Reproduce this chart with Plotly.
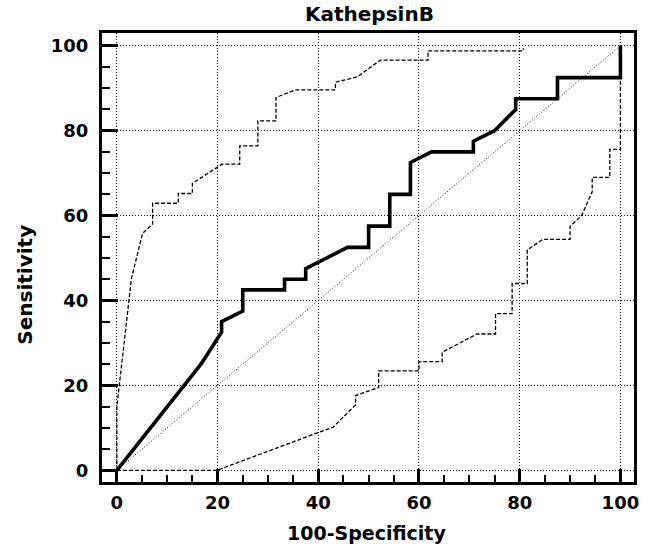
import plotly.graph_objects as go

# ROC curve for KathepsinB (values in percent)
roc_fpr = [0, 16.7, 20.8, 20.8, 25, 25, 33.3, 33.3, 37.5, 37.5, 45.8, 50, 50, 54.2,
           54.2, 58.3, 58.3, 62.5, 70.8, 70.8, 75, 79.2, 79.2, 87.5, 87.5, 100, 100]
roc_tpr = [0, 25, 32.5, 35, 37.5, 42.5, 42.5, 45, 45, 47.5, 52.5, 52.5, 57.5, 57.5,
           65, 65, 72.5, 75, 75, 77.5, 80, 85, 87.5, 87.5, 92.5, 92.5, 100]

# Upper confidence bound
upper_fpr = [0, 0, 2.9, 5.1, 7.1, 7.1, 12.2, 12.2, 15.0, 15.0, 20.9, 24.4, 24.4, 28.0,
             28.0, 31.6, 31.6, 35.4, 43.4, 43.4, 47.8, 52.3, 61.8, 61.8, 80.7, 80.7]
upper_tpr = [0, 15.0, 45.2, 55.8, 58.0, 62.9, 62.9, 65.2, 65.2, 67.6, 72.1, 72.1, 76.4,
             76.4, 82.3, 82.3, 87.8, 89.6, 89.6, 91.4, 92.7, 96.6, 96.6, 98.8, 98.8, 99.4]

# Lower confidence bound
lower_fpr = [0, 19.9, 40.0, 42.9, 47.4, 47.4, 52.0, 52.0, 60.0, 60.0, 64.6, 64.6, 71.5,
             75.2, 75.2, 78.5, 78.5, 81.5, 81.5, 84.6, 90.0, 90.0, 92.3, 94.4, 94.4,
             97.9, 97.9, 100, 100]
lower_tpr = [0, 0, 8.9, 10.1, 15.4, 17.6, 19.5, 23.4, 23.4, 25.6, 25.6, 27.8, 32.1,
             32.1, 36.9, 36.9, 44.0, 44.0, 51.9, 54.4, 54.4, 57.4, 60.0, 65.6, 69.0,
             69.0, 75.6, 75.6, 100]

# Chance line
diag = [0, 100]

tick_vals = [0, 20, 40, 60, 80, 100]
tick_text = ["0", "20", "40", "60", "80", "100"]

FONT = "DejaVu Sans"

fig = go.Figure()
fig.add_trace(go.Scatter(x=diag, y=diag, mode="lines",
                         line=dict(color="#222222", width=1, dash="1px,2px"),
                         hoverinfo="skip"))
fig.add_trace(go.Scatter(x=upper_fpr, y=upper_tpr, mode="lines",
                         line=dict(color="black", width=1.3, dash="4px,2px")))
fig.add_trace(go.Scatter(x=lower_fpr, y=lower_tpr, mode="lines",
                         line=dict(color="black", width=1.3, dash="4px,2px")))
fig.add_trace(go.Scatter(x=roc_fpr, y=roc_tpr, mode="lines",
                         line=dict(color="black", width=3.6)))

axis_common = dict(
    showline=True, linecolor="black", linewidth=3, mirror=True,
    showgrid=True, gridcolor="#111111", gridwidth=1, griddash="1px,2px",
    zeroline=False, ticks="inside", tickcolor="black", tickwidth=2.5,
    tickvals=tick_vals, ticktext=tick_text,
    tickfont=dict(family=FONT, size=18, color="black", weight="bold"),
)

fig.update_xaxes(range=[-2.95, 102.7], ticklen=13, ticklabelstandoff=2,
                 minor=dict(dtick=5, tick0=0, ticks="inside", ticklen=7,
                            tickwidth=2, tickcolor="black", showgrid=False),
                 **axis_common)
fig.update_yaxes(range=[-2.76, 103.0], ticklen=16, ticklabelstandoff=7,
                 minor=dict(dtick=5, tick0=0, ticks="inside", ticklen=8,
                            tickwidth=2, tickcolor="black", showgrid=False),
                 **axis_common)

fig.update_layout(
    width=649, height=554,
    margin=dict(l=102, r=10, t=33, b=72),
    paper_bgcolor="white", plot_bgcolor="white",
    showlegend=False,
    annotations=[
        dict(text="KathepsinB", xref="paper", yref="paper", x=0.503, y=1.043,
             xanchor="center", yanchor="middle", showarrow=False,
             font=dict(family=FONT, size=20, color="black", weight="bold")),
        dict(text="100-Specificity", xref="paper", yref="paper", x=0.497, y=-0.1136,
             xanchor="center", yanchor="middle", showarrow=False,
             font=dict(family=FONT, size=19, color="black", weight="bold")),
        dict(text="Sensitivity", xref="paper", yref="paper", x=-0.1453, y=0.4388,
             xanchor="center", yanchor="middle", showarrow=False, textangle=-90,
             font=dict(family=FONT, size=20, color="black", weight="bold")),
    ],
)

fig.write_html("out.html")
